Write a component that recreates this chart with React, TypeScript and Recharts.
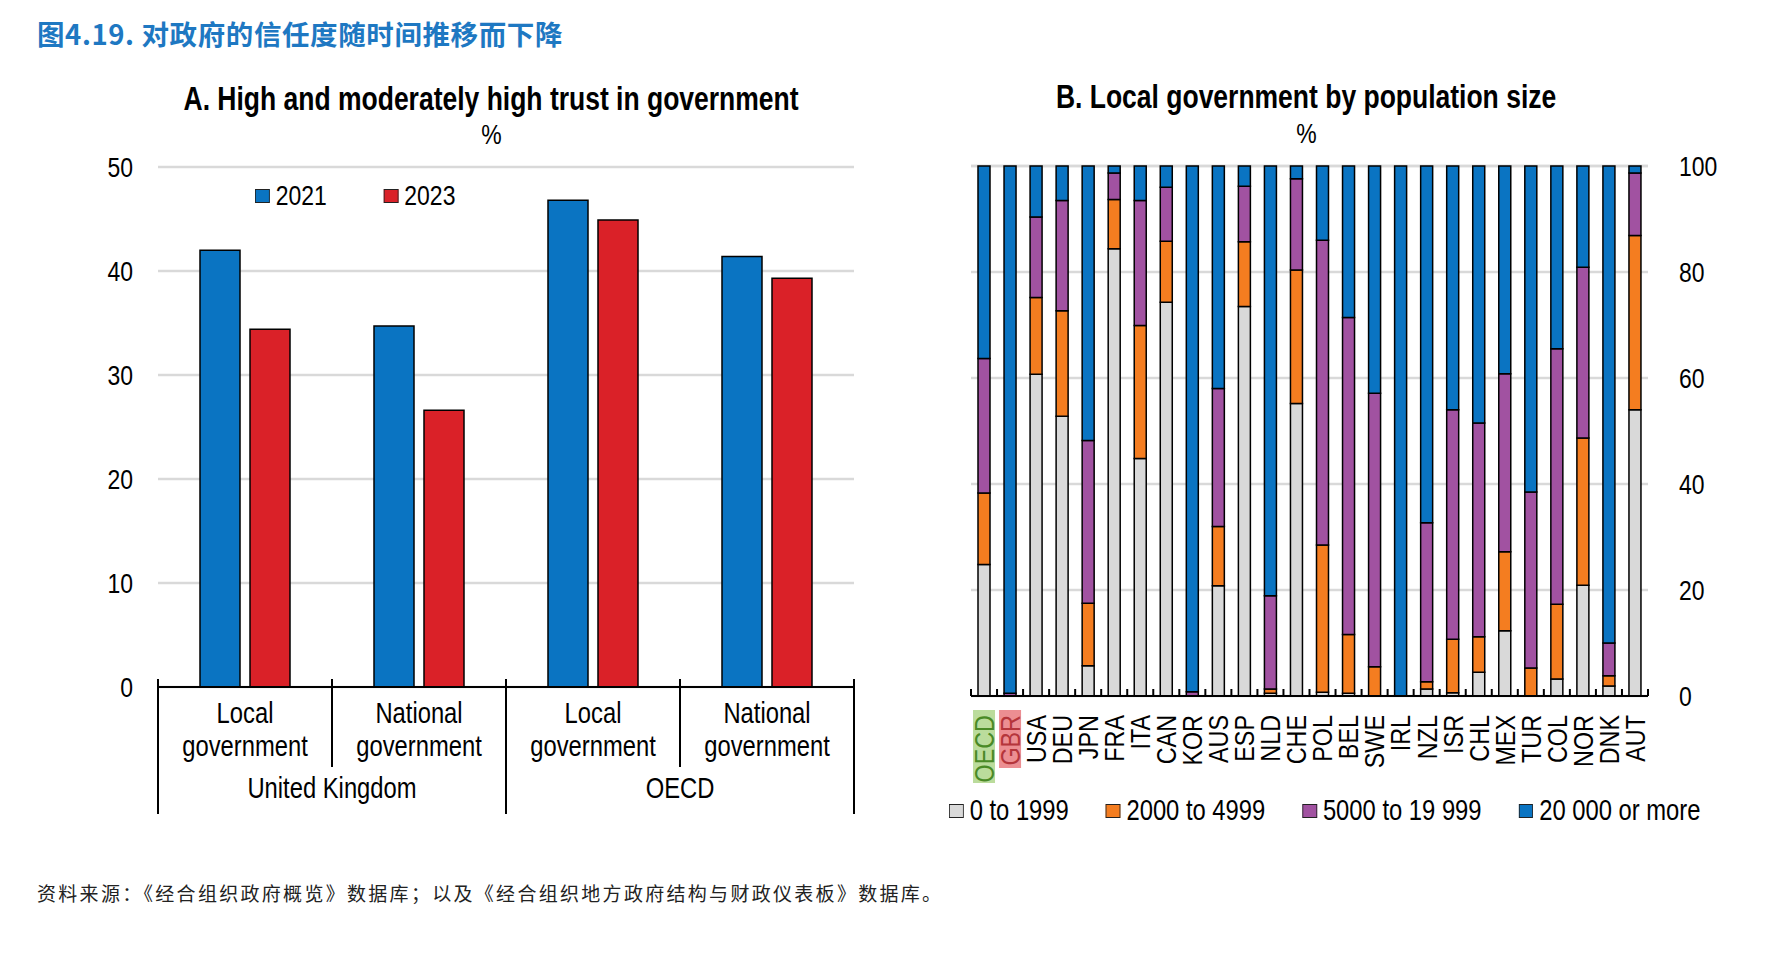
import { BarChart, Bar, XAxis, YAxis, CartesianGrid, Legend } from "recharts";

// OECD-style palette
const BLUE = "#0A74C2";
const RED = "#DA2128";
const GRAY = "#D9D9D9";
const ORANGE = "#F47D20";
const PURPLE = "#A152A1";
const GRID = "#D9D9D9";
// no Arial Narrow available: squeeze Liberation Sans (Arial metrics) instead
const FONT = "'Liberation Sans', Arial, sans-serif";
const NARROW = 0.82;
const CJK = "'Noto Sans CJK SC', 'Noto Sans', sans-serif";

// Panel A: trust in government (%)
const trustCategories = ["Local government", "National government", "Local government", "National government"];
const trustGroups = ["United Kingdom", "United Kingdom", "OECD", "OECD"];
const trust2021 = [42.0, 34.7, 46.8, 41.4];
const trust2023 = [34.4, 26.6, 44.9, 39.3];
const trustTicks = [0, 10, 20, 30, 40, 50];

// Panel B: local government by population size (% of municipalities)
const countries = ["OECD", "GBR", "USA", "DEU", "JPN", "FRA", "ITA", "CAN", "KOR", "AUS", "ESP", "NLD", "CHE",
  "POL", "BEL", "SWE", "IRL", "NZL", "ISR", "CHL", "MEX", "TUR", "COL", "NOR", "DNK", "AUT"];
const pop0to1999 = [24.8, 0, 60.7, 52.8, 5.7, 84.4, 44.8, 74.3, 0, 20.8, 73.5, 0.5, 55.2,
  0.7, 0.5, 0, 0, 1.3, 0.6, 4.5, 12.3, 0, 3.2, 20.9, 1.9, 54.0];
const pop2000to4999 = [13.5, 0, 14.5, 19.9, 11.8, 9.3, 25.1, 11.5, 0, 11.2, 12.2, 0.8, 25.2,
  27.8, 11.1, 5.5, 0, 1.4, 10.1, 6.7, 14.9, 5.3, 14.1, 27.8, 1.9, 32.9];
const pop5000to19999 = [25.4, 0.5, 15.2, 20.8, 30.7, 5.0, 23.6, 10.2, 0.8, 26.0, 10.5, 17.6, 17.2,
  57.5, 59.8, 51.6, 0, 30.0, 43.3, 40.3, 33.6, 33.2, 48.2, 32.2, 6.2, 11.8];
const pop20000plus = [36.3, 99.5, 9.6, 6.5, 51.8, 1.3, 6.5, 4.0, 99.2, 42.0, 3.8, 81.1, 2.4,
  14.0, 28.6, 42.9, 100, 67.3, 46.0, 48.5, 39.2, 61.5, 34.5, 19.1, 90.0, 1.3];
const popTicks = [0, 20, 40, 60, 80, 100];

const trustRows = trustCategories.map((c, i) => ({ cat: c, group: trustGroups[i], y2021: trust2021[i], y2023: trust2023[i] }));
const popRows = countries.map((c, i) => ({
  code: c, a: pop0to1999[i], b: pop2000to4999[i], c: pop5000to19999[i], d: pop20000plus[i],
}));

const A_PLOT_W = 696;
const B_PLOT_W = 677;
const HIGHLIGHT: Record<string, { fill: string; color: string }> = {
  OECD: { fill: "#BBDC9C", color: "#4A8A26" },
  GBR: { fill: "#EC8E92", color: "#B5353B" },
};

function NText({ x, y, anchor = "middle", size = 29, fill = "#000", dy, children }: any) {
  return (
    <text transform={`translate(${x},${y}) scale(${NARROW},1)`} x={0} y={0} dy={dy} textAnchor={anchor}
      fontFamily={FONT} fontSize={size} fill={fill}>{children}</text>
  );
}

function ValueTick(props: any) {
  const { x, y, payload, textAnchor } = props;
  return <NText x={x} y={y} anchor={textAnchor} size={28} dy="0.355em">{payload.value}</NText>;
}

function TrustTick(props: any) {
  const { x, y, payload, index } = props;
  const half = A_PLOT_W / trustRows.length / 2;
  const words = String(payload.value).split(" ");
  const groupStart = index === 0 || trustGroups[index] !== trustGroups[index - 1];
  const last = index === trustRows.length - 1;
  return (
    <g>
      <line x1={x - half} x2={x - half} y1={y - 8} y2={groupStart ? y + 127 : y + 80} stroke="#000" strokeWidth={2} />
      {last && <line x1={x + half} x2={x + half} y1={y - 8} y2={y + 127} stroke="#000" strokeWidth={2} />}
      <NText x={x} y={y + 36}>{words[0]}</NText>
      <NText x={x} y={y + 69}>{words.slice(1).join(" ")}</NText>
      {groupStart && <NText x={x + half} y={y + 111}>{trustGroups[index]}</NText>}
    </g>
  );
}

function CountryTick(props: any) {
  const { x, y, payload, index } = props;
  const half = B_PLOT_W / countries.length / 2;
  const label = String(payload.value);
  const hl = HIGHLIGHT[label];
  const w = label.length * 15 + 4;
  return (
    <g>
      <line x1={x - half} x2={x - half} y1={y} y2={y - 7} stroke="#000" strokeWidth={2} />
      {index === countries.length - 1 && <line x1={x + half} x2={x + half} y1={y} y2={y - 7} stroke="#000" strokeWidth={2} />}
      <g transform={`translate(${x},${y + 19}) rotate(-90)`}>
        {hl && <rect x={-(w + 4)} y={-11} width={w + 9} height={22} fill={hl.fill} />}
        <text transform={`scale(${NARROW},1)`} x={0} y={0} textAnchor="end" dominantBaseline="central" fontSize={28.5}
          fontFamily={FONT} fill={hl ? hl.color : "#000"}>{label}</text>
      </g>
    </g>
  );
}

function SwatchLegend({ items, gap, size }: { items: { label: string; color: string }[]; gap: number; size: number }) {
  // whole legend squeezed like the narrow font; widths compensated
  return (
    <div style={{ display: "flex", alignItems: "center", gap: gap / NARROW, fontFamily: FONT, fontSize: size, color: "#000",
      whiteSpace: "nowrap", transform: `scaleX(${NARROW})`, transformOrigin: "left center", lineHeight: 1 }}>
      {items.map((it) => (
        <div key={it.label} style={{ display: "flex", alignItems: "center", gap: 6 / NARROW }}>
          <span style={{ width: 13 / NARROW, height: 12, background: it.color, border: "1px solid #222", display: "inline-block" }} />
          <span>{it.label}</span>
        </div>
      ))}
    </div>
  );
}

function Heading({ text, width, center, size, bold }: any) {
  return (
    <div style={{ position: "absolute", left: 0, width, top: center - size / 2, textAlign: "center", lineHeight: 1 }}>
      <span style={{ display: "inline-block", fontFamily: FONT, fontWeight: bold ? 700 : 400, fontSize: size,
        transform: `scaleX(${NARROW})`, whiteSpace: "nowrap" }}>{text}</span>
    </div>
  );
}

export default function App() {
  return (
    <div style={{ position: "absolute", left: 0, top: 0, width: 1767, height: 973, background: "#fff", overflow: "hidden" }}>
      <div style={{ position: "absolute", left: 37, top: 20, lineHeight: 1, fontFamily: CJK, fontWeight: 700, fontSize: 27.5, color: "#1E78C2", letterSpacing: 0.6 }}>
        图4.19. 对政府的信任度随时间推移而下降
      </div>

      <div style={{ position: "absolute", left: 0, top: 0, width: 900 }}>
        <Heading text="A. High and moderately high trust in government" width={982} center={99} size={32.3} bold />
        <Heading text="%" width={982} center={135} size={28} />
        <BarChart width={900} height={830} data={trustRows} margin={{ top: 167, right: 46, bottom: 23, left: 108 }} barSize={40} barGap={10}>
          <CartesianGrid vertical={false} stroke={GRID} strokeWidth={2.5} />
          <XAxis dataKey="cat" height={120} axisLine={{ stroke: "#000", strokeWidth: 2 }} tickLine={false} tickSize={0} tickMargin={0} interval={0} tick={<TrustTick />} />
          <YAxis width={50} domain={[0, 50]} ticks={trustTicks} axisLine={false} tickLine={false} tickSize={0} tickMargin={25} tick={<ValueTick />} />
          <Legend verticalAlign="middle" layout="horizontal"
            wrapperStyle={{ left: 255, top: 182, width: "auto" }}
            content={() => <SwatchLegend gap={57} size={28} items={[{ label: "2021", color: BLUE }, { label: "2023", color: RED }]} />} />
          <Bar dataKey="y2021" name="2021" fill={BLUE} stroke="#000" strokeWidth={1.5} isAnimationActive={false} />
          <Bar dataKey="y2023" name="2023" fill={RED} stroke="#000" strokeWidth={1.5} isAnimationActive={false} />
        </BarChart>
      </div>

      <div style={{ position: "absolute", left: 900, top: 0, width: 867 }}>
        <Heading text="B. Local government by population size" width={812} center={97} size={32.3} bold />
        <Heading text="%" width={812} center={134} size={28} />
        <BarChart width={867} height={900} data={popRows} margin={{ top: 166, right: 59, bottom: 84, left: 71 }} barSize={12}>
          <CartesianGrid vertical={false} stroke={GRID} strokeWidth={2.5} />
          <XAxis dataKey="code" height={120} axisLine={{ stroke: "#000", strokeWidth: 2 }} tickLine={false} tickSize={0} tickMargin={0} interval={0} tick={<CountryTick />} />
          <YAxis orientation="right" width={60} domain={[0, 100]} ticks={popTicks} axisLine={false} tickLine={false} tickSize={0} tickMargin={31} tick={<ValueTick />} />
          <Legend verticalAlign="middle" layout="horizontal"
            wrapperStyle={{ left: 49, top: 796, width: "auto" }}
            content={() => (
              <SwatchLegend gap={37} size={29} items={[
                { label: "0 to 1999", color: GRAY },
                { label: "2000 to 4999", color: ORANGE },
                { label: "5000 to 19 999", color: PURPLE },
                { label: "20 000 or more", color: BLUE },
              ]} />
            )} />
          <Bar dataKey="a" stackId="s" name="0 to 1999" fill={GRAY} stroke="#000" strokeWidth={1.5} isAnimationActive={false} />
          <Bar dataKey="b" stackId="s" name="2000 to 4999" fill={ORANGE} stroke="#000" strokeWidth={1.5} isAnimationActive={false} />
          <Bar dataKey="c" stackId="s" name="5000 to 19 999" fill={PURPLE} stroke="#000" strokeWidth={1.5} isAnimationActive={false} />
          <Bar dataKey="d" stackId="s" name="20 000 or more" fill={BLUE} stroke="#000" strokeWidth={1.5} isAnimationActive={false} />
        </BarChart>
      </div>

      <div style={{ position: "absolute", left: 37, top: 879, fontFamily: CJK, fontSize: 19, color: "#222", letterSpacing: 2.3 }}>
        资料来源：《经合组织政府概览》数据库；以及《经合组织地方政府结构与财政仪表板》数据库。
      </div>
    </div>
  );
}
